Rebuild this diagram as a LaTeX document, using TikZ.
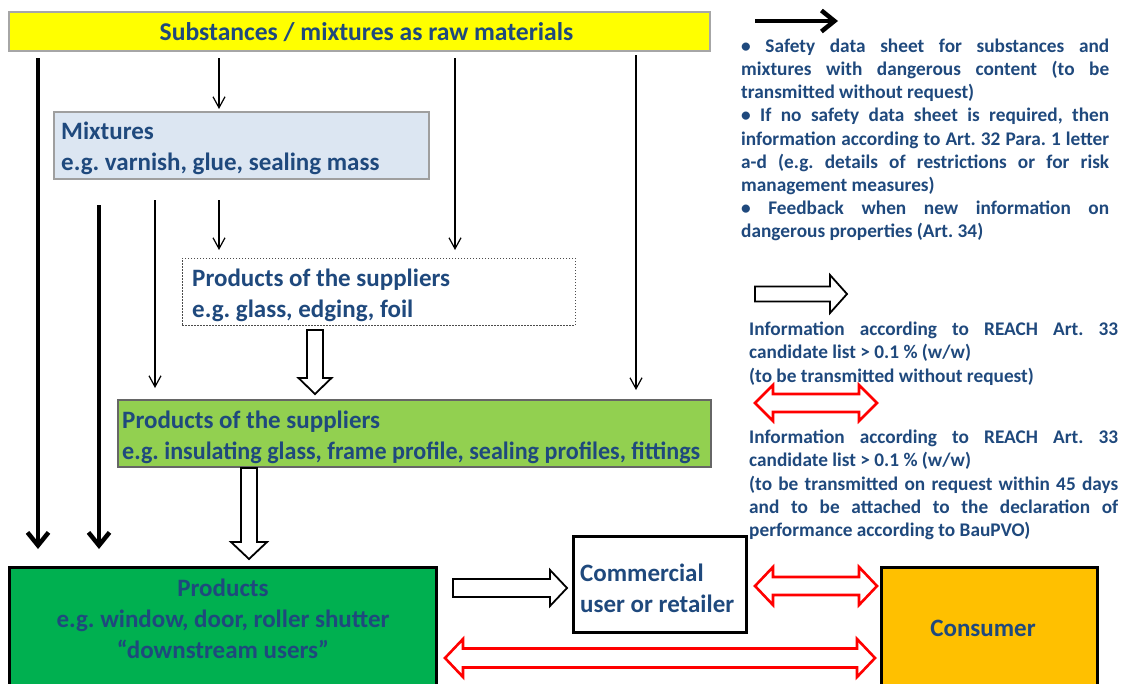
\documentclass[tikz,border=0pt]{standalone}
\usepackage{fontspec}
\usepackage{graphicx}
\setmainfont{Carlito}
\usetikzlibrary{arrows.meta,calc}
\hyphenpenalty=10000
\exhyphenpenalty=10000
\definecolor{txtblue}{RGB}{31,73,125}
\definecolor{rawyellow}{RGB}{255,255,0}
\definecolor{mixblue}{RGB}{220,230,242}
\definecolor{supgreen}{RGB}{146,208,80}
\definecolor{prodgreen}{RGB}{0,176,80}
\definecolor{consorange}{RGB}{255,192,0}
\definecolor{arrred}{RGB}{255,0,0}
% vertical (downward) hollow arrow: style, start, end, shaft half, head half, head length
\newcommand\vhollow[6]{%
  \draw[#1] let \p1=(#2), \p2=(#3) in
    (\x1-#4,\y1) -- (\x1-#4,\y2+#6) -- (\x1-#5,\y2+#6) -- (\x1,\y2)
    -- (\x1+#5,\y2+#6) -- (\x1+#4,\y2+#6) -- (\x1+#4,\y1) -- cycle;}
% horizontal (rightward) hollow arrow
\newcommand\hhollow[6]{%
  \draw[#1] let \p1=(#2), \p2=(#3) in
    (\x1,\y1+#4) -- (\x2-#6,\y1+#4) -- (\x2-#6,\y1+#5) -- (\x2,\y1)
    -- (\x2-#6,\y1-#5) -- (\x2-#6,\y1-#4) -- (\x1,\y1-#4) -- cycle;}
% horizontal double hollow arrow
\newcommand\dhollow[6]{%
  \draw[#1] let \p1=(#2), \p2=(#3) in
    (\x1,\y1) -- (\x1+#6,\y1+#5) -- (\x1+#6,\y1+#4) -- (\x2-#6,\y1+#4)
    -- (\x2-#6,\y1+#5) -- (\x2,\y1) -- (\x2-#6,\y1-#5) -- (\x2-#6,\y1-#4)
    -- (\x1+#6,\y1-#4) -- (\x1+#6,\y1-#5) -- cycle;}
\begin{document}
\begin{tikzpicture}[x=1pt,y=-1pt,
  every node/.style={text=txtblue, font=\bfseries\fontsize{25}{31}\selectfont\frenchspacing},
  panel/.style={anchor=north west, inner sep=0pt, outer sep=0pt},
  boxtxt/.style={anchor=west, inner sep=0pt, align=left},
  legtxt/.style={anchor=north west, inner sep=0pt, align=justify,
     font=\bfseries\fontsize{19.3}{23.2}\selectfont\frenchspacing},
  thinarr/.style={line width=1.2pt, -{Straight Barb[length=11pt,width=12pt]}},
  thickarr/.style={line width=4.5pt, -{Straight Barb[length=13pt,width=21pt]}},
  hollowblk/.style={draw=black, fill=white, line width=1.8pt, line join=miter},
  hollowred/.style={draw=arrred, fill=white, line width=2.6pt, line join=miter}]
\clip (0,0) rectangle (1126,683);
\fill[white] (0,0) rectangle (1126,683);

% ---------------- boxes ----------------
\node[panel, draw=gray!70, line width=1.3pt, fill=rawyellow,
      minimum width=701pt, minimum height=39pt] (raw) at (9,12) {};
\node[font=\bfseries\fontsize{25.6}{31}\selectfont] (rawtxt) at (366.5,32) {Substances / mixtures as raw materials};

\node[panel, draw=gray!75, line width=1.3pt, fill=mixblue,
      minimum width=375pt, minimum height=67pt] (mix) at (54,112) {};
\node[boxtxt] (mixtxt) at (61,148.5) {Mixtures\\e.g. varnish, glue, sealing mass};

\node[panel, draw=black!70, line width=1pt, dash pattern=on 1.5pt off 1.5pt,
      minimum width=393pt, minimum height=67pt] (sup1) at (182,258) {};
\node[boxtxt] (sup1txt) at (192,295.5) {Products of the suppliers\\e.g. glass, edging, foil};

\node[panel, draw=black!60, line width=1.3pt, fill=supgreen,
      minimum width=593pt, minimum height=67pt] (sup2) at (118,400) {};
\node[boxtxt] (sup2txt) at (122,437) {Products of the suppliers\\
      \resizebox{578pt}{\height}{e.g. insulating glass, frame profile, sealing profiles, fittings}};

\node[panel, draw=black, line width=3pt, fill=prodgreen,
      minimum width=427pt, minimum height=140pt] (prod) at (9,567) {};
\node[align=center, inner sep=0pt] (prodtxt) at (223,618.5)
      {Products\\e.g. window, door, roller shutter\\“downstream users”};

\node[panel, draw=black, line width=3pt, fill=white,
      minimum width=173pt, minimum height=96pt] (comm) at (573,536) {};
\node[boxtxt] (commtxt) at (580,588.5) {Commercial\\user or retailer};

\node[panel, draw=black, line width=3pt, fill=consorange,
      minimum width=216pt, minimum height=140pt] (cons) at (881,567) {};
\node (constxt) at (983,628) {Consumer};

% ---------------- thin and thick arrows ----------------
\coordinate (t1s) at (219,58);  \coordinate (t1e) at (219,109);
\coordinate (t2s) at (155,200); \coordinate (t2e) at (155,388);
\coordinate (t3s) at (219,200); \coordinate (t3e) at (219,250);
\coordinate (t4s) at (455,58);  \coordinate (t4e) at (455,250);
\coordinate (t5s) at (636,55);  \coordinate (t5e) at (636,390);
\draw[thinarr] (t1s) -- (t1e);
\draw[thinarr] (t2s) -- (t2e);
\draw[thinarr] (t3s) -- (t3e);
\draw[thinarr] (t4s) -- (t4e);
\draw[thinarr] (t5s) -- (t5e);

\coordinate (k1s) at (38,58);  \coordinate (k1e) at (38,549);
\coordinate (k2s) at (99,205); \coordinate (k2e) at (99,549);
\draw[thickarr] (k1s) -- (k1e);
\draw[thickarr] (k2s) -- (k2e);

% ---------------- hollow arrows ----------------
\coordinate (h1s) at (315,330); \coordinate (h1e) at (315,394);
\vhollow{hollowblk}{h1s}{h1e}{8pt}{16.5pt}{16pt}
\coordinate (h2s) at (249,468); \coordinate (h2e) at (249,559);
\vhollow{hollowblk}{h2s}{h2e}{8pt}{18pt}{17pt}
\coordinate (h3s) at (453,588); \coordinate (h3e) at (567,588);
\hhollow{hollowblk}{h3s}{h3e}{9pt}{18pt}{17pt}
\coordinate (r1s) at (755,586); \coordinate (r1e) at (877,586);
\dhollow{hollowred}{r1s}{r1e}{9pt}{19pt}{18pt}
\coordinate (r2s) at (445,658); \coordinate (r2e) at (875,658);
\dhollow{hollowred}{r2s}{r2e}{9.5pt}{19pt}{18pt}

% ---------------- legend ----------------
\coordinate (l1s) at (755,21); \coordinate (l1e) at (838,21);
\draw[thickarr] (l1s) -- (l1e);
\node[legtxt, text width=368pt] (leg1) at (741,38.5)
  {• Safety data sheet for substances and\linebreak mixtures with dangerous content (to be\linebreak transmitted without request)\par
   • If no safety data sheet is required, then\linebreak information according to Art. 32 Para. 1 letter\linebreak a-d (e.g. details of restrictions or for risk\linebreak management measures)\par
   • Feedback when new information on\linebreak dangerous properties (Art. 34)};

\coordinate (l2s) at (755,294); \coordinate (l2e) at (847,294);
\hhollow{hollowblk}{l2s}{l2e}{7.5pt}{19pt}{17pt}
\node[legtxt, text width=369pt] (leg2) at (749,322)
  {Information according to REACH Art. 33\linebreak candidate list > 0.1 \% (w/w)\\
   (to be transmitted without request)};

\coordinate (l3s) at (755,403); \coordinate (l3e) at (877,403);
\dhollow{hollowred}{l3s}{l3e}{9pt}{18pt}{18pt}
\node[legtxt, text width=369pt] (leg3) at (749,430)
  {Information according to REACH Art. 33\linebreak candidate list > 0.1 \% (w/w)\\
   (to be transmitted on request within 45 days\linebreak and to be attached to the declaration of\linebreak performance according to BauPVO)};
\end{tikzpicture}
\end{document}
